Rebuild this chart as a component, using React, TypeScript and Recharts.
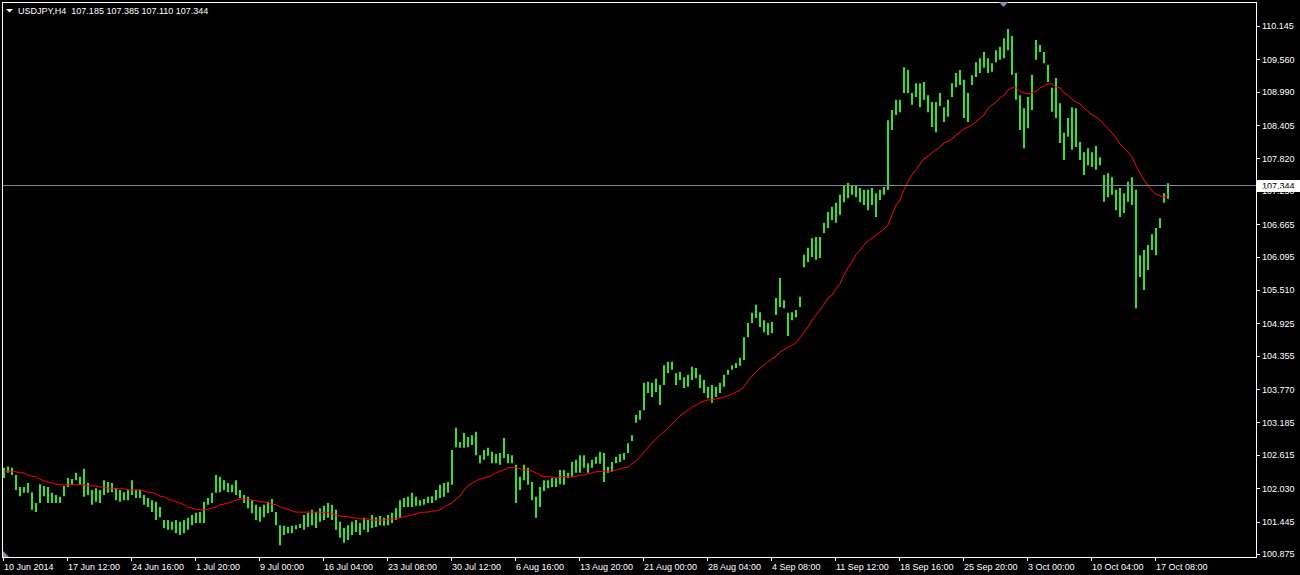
import { Bar, ComposedChart, Line, ReferenceLine, XAxis, YAxis } from 'recharts'

// USDJPY H4, every second bar
const symbol = 'USDJPY,H4'
const lastBar = ['107.185', '107.385', '107.110', '107.344']
const bidPrice = 107.344

const highs = [
  102.39, 102.41, 102.39, 102.26, 102.05, 102.05, 102.12, 101.96, 101.77, 102.10,
  102.07, 102.05, 101.95, 101.91, 101.88, 102.07, 102.21, 102.19, 102.30, 102.23,
  102.37, 102.12, 102.00, 102.03, 102.00, 102.17, 102.14, 102.12, 102.03, 102.00,
  101.96, 102.00, 102.17, 102.00, 102.00, 101.91, 101.86, 101.82, 101.79, 101.70,
  101.47, 101.47, 101.44, 101.47, 101.44, 101.47, 101.51, 101.56, 101.60, 101.61,
  101.79, 101.86, 101.95, 102.26, 102.23, 102.17, 102.12, 102.09, 102.17, 102.00,
  101.91, 101.88, 101.82, 101.74, 101.70, 101.74, 101.79, 101.84, 101.61, 101.38,
  101.37, 101.35, 101.37, 101.38, 101.40, 101.56, 101.60, 101.65, 101.61, 101.68,
  101.72, 101.77, 101.74, 101.65, 101.44, 101.33, 101.38, 101.44, 101.47, 101.42,
  101.51, 101.47, 101.56, 101.52, 101.54, 101.51, 101.56, 101.60, 101.68, 101.82,
  101.86, 101.88, 101.95, 101.88, 101.82, 101.84, 101.88, 101.89, 102.00, 102.09,
  102.12, 102.14, 102.70, 103.09, 102.84, 103.00, 102.93, 102.96, 103.02, 102.61,
  102.70, 102.74, 102.67, 102.63, 102.65, 102.91, 102.63, 102.61, 102.44, 102.23,
  102.44, 102.39, 102.14, 101.88, 102.05, 102.17, 102.17, 102.21, 102.21, 102.35,
  102.35, 102.30, 102.49, 102.53, 102.61, 102.61, 102.47, 102.53, 102.58, 102.67,
  102.65, 102.40, 102.49, 102.58, 102.63, 102.65, 102.82, 102.96, 103.32, 103.40,
  103.88, 103.90, 103.88, 103.95, 103.84, 104.19, 104.25, 104.25, 104.05, 104.07,
  103.98, 104.02, 104.16, 104.14, 104.02, 103.93, 103.81, 103.84, 103.81, 103.88,
  104.02, 104.11, 104.19, 104.23, 104.32, 104.68, 104.93, 105.11, 105.25, 105.12,
  104.98, 104.93, 104.95, 105.37, 105.72, 105.33, 105.11, 105.12, 105.16, 105.39,
  106.13, 106.25, 106.42, 106.44, 106.44, 106.69, 106.88, 106.97, 107.04, 107.18,
  107.35, 107.39, 107.35, 107.34, 107.30, 107.27, 107.27, 107.30, 107.21, 107.27,
  107.32, 108.49, 108.67, 108.85, 108.85, 109.42, 109.37, 108.97, 109.14, 109.14,
  109.16, 108.93, 108.81, 108.81, 108.97, 108.72, 108.85, 109.14, 109.32, 109.37,
  109.20, 108.97, 109.28, 109.51, 109.58, 109.69, 109.58, 109.49, 109.72, 109.78,
  109.93, 110.09, 109.97, 109.32, 108.93, 108.70, 108.90, 109.29, 109.90, 109.81,
  109.69, 109.46, 109.06, 109.23, 108.79, 108.27, 108.53, 108.72, 108.70, 108.11,
  107.93, 108.00, 107.93, 108.04, 107.84, 107.53, 107.56, 107.49, 107.27, 107.30,
  107.21, 107.41, 107.49, 107.27, 106.12, 106.21, 106.30, 106.49, 106.60, 106.77,
  107.21, 107.385,
]

const lows = [
  102.21, 102.30, 102.26, 102.00, 101.89, 101.95, 101.95, 101.65, 101.61, 101.77,
  101.89, 101.77, 101.77, 101.77, 101.77, 101.89, 102.05, 102.09, 102.17, 102.09,
  101.88, 101.91, 101.74, 101.79, 101.77, 101.91, 101.95, 101.96, 101.82, 101.79,
  101.82, 101.82, 101.91, 101.86, 101.86, 101.74, 101.70, 101.61, 101.47, 101.52,
  101.33, 101.30, 101.30, 101.24, 101.21, 101.24, 101.30, 101.38, 101.42, 101.42,
  101.42, 101.74, 101.77, 101.95, 101.96, 102.00, 101.96, 101.96, 101.91, 101.86,
  101.77, 101.68, 101.59, 101.47, 101.44, 101.52, 101.59, 101.61, 101.38, 101.03,
  101.21, 101.24, 101.24, 101.31, 101.33, 101.30, 101.35, 101.38, 101.33, 101.44,
  101.47, 101.51, 101.47, 101.30, 101.16, 101.07, 101.12, 101.21, 101.26, 101.21,
  101.30, 101.26, 101.33, 101.35, 101.38, 101.37, 101.38, 101.42, 101.47, 101.51,
  101.70, 101.70, 101.70, 101.72, 101.72, 101.74, 101.77, 101.77, 101.82, 101.86,
  101.88, 101.95, 102.09, 102.75, 102.74, 102.74, 102.75, 102.79, 102.61, 102.47,
  102.53, 102.60, 102.47, 102.47, 102.44, 102.56, 102.47, 102.47, 101.77, 102.00,
  102.17, 102.09, 101.82, 101.51, 101.70, 101.98, 102.03, 102.05, 102.05, 102.10,
  102.09, 102.21, 102.23, 102.30, 102.30, 102.39, 102.30, 102.39, 102.46, 102.46,
  102.14, 102.30, 102.32, 102.47, 102.49, 102.53, 102.65, 102.86, 103.18, 103.23,
  103.40, 103.70, 103.63, 103.72, 103.49, 103.84, 104.05, 104.11, 103.84, 103.93,
  103.79, 103.81, 103.93, 103.96, 103.79, 103.70, 103.61, 103.53, 103.63, 103.70,
  103.81, 104.02, 104.11, 104.14, 104.18, 104.28, 104.68, 104.93, 105.02, 104.86,
  104.77, 104.72, 104.75, 105.07, 105.21, 105.19, 104.70, 104.98, 105.03, 105.21,
  105.91, 106.00, 106.09, 106.04, 106.07, 106.51, 106.60, 106.74, 106.69, 106.83,
  107.05, 107.12, 107.18, 107.14, 107.05, 107.00, 106.91, 107.00, 106.79, 107.09,
  107.18, 107.27, 108.32, 108.58, 108.63, 108.97, 108.97, 108.76, 108.90, 108.72,
  108.85, 108.63, 108.37, 108.28, 108.74, 108.46, 108.55, 108.90, 109.07, 109.11,
  108.53, 108.46, 109.11, 109.25, 109.32, 109.41, 109.32, 109.34, 109.51, 109.55,
  109.58, 109.72, 109.29, 108.85, 108.32, 108.00, 108.35, 108.67, 109.55, 109.69,
  109.49, 109.16, 108.64, 108.53, 108.09, 107.79, 108.20, 107.97, 108.02, 107.79,
  107.53, 107.70, 107.67, 107.62, 107.70, 107.06, 107.14, 107.18, 106.91, 106.79,
  106.86, 107.06, 107.00, 105.19, 105.74, 105.51, 105.86, 106.21, 106.12, 106.60,
  107.04, 107.11,
]

// red moving average
const maValues = [
  102.32, 102.32, 102.32, 102.32, 102.30, 102.30, 102.26, 102.24, 102.23, 102.19,
  102.16, 102.14, 102.12, 102.10, 102.09, 102.09, 102.09, 102.09, 102.09, 102.09,
  102.09, 102.07, 102.07, 102.07, 102.05, 102.05, 102.03, 102.03, 102.02, 102.02,
  102.02, 102.00, 102.00, 102.00, 102.00, 101.98, 101.96, 101.96, 101.93, 101.89,
  101.88, 101.84, 101.82, 101.79, 101.77, 101.74, 101.70, 101.68, 101.66, 101.65,
  101.65, 101.66, 101.68, 101.70, 101.74, 101.75, 101.77, 101.79, 101.82, 101.84,
  101.84, 101.84, 101.82, 101.81, 101.79, 101.79, 101.77, 101.75, 101.74, 101.70,
  101.68, 101.66, 101.63, 101.61, 101.61, 101.61, 101.61, 101.61, 101.61, 101.61,
  101.60, 101.60, 101.58, 101.56, 101.54, 101.53, 101.53, 101.51, 101.51, 101.49,
  101.49, 101.49, 101.47, 101.47, 101.47, 101.47, 101.49, 101.49, 101.49, 101.51,
  101.53, 101.54, 101.56, 101.58, 101.60, 101.61, 101.61, 101.63, 101.63, 101.65,
  101.70, 101.74, 101.77, 101.84, 101.89, 102.00, 102.07, 102.12, 102.16, 102.19,
  102.21, 102.23, 102.26, 102.30, 102.33, 102.35, 102.39, 102.39, 102.39, 102.37,
  102.35, 102.35, 102.33, 102.30, 102.26, 102.23, 102.23, 102.23, 102.21, 102.23,
  102.23, 102.23, 102.23, 102.24, 102.26, 102.26, 102.28, 102.30, 102.32, 102.32,
  102.33, 102.33, 102.33, 102.35, 102.37, 102.39, 102.40, 102.46, 102.51, 102.58,
  102.67, 102.74, 102.82, 102.89, 102.96, 103.02, 103.09, 103.16, 103.23, 103.30,
  103.35, 103.40, 103.46, 103.49, 103.53, 103.56, 103.58, 103.58, 103.60, 103.61,
  103.63, 103.65, 103.68, 103.72, 103.75, 103.81, 103.91, 104.00, 104.07, 104.14,
  104.19, 104.25, 104.30, 104.35, 104.42, 104.46, 104.51, 104.54, 104.58, 104.67,
  104.77, 104.86, 104.98, 105.07, 105.16, 105.26, 105.37, 105.42, 105.53, 105.62,
  105.77, 105.90, 106.00, 106.13, 106.21, 106.30, 106.37, 106.42, 106.47, 106.53,
  106.58, 106.65, 106.83, 107.00, 107.09, 107.27, 107.41, 107.53, 107.62, 107.72,
  107.81, 107.86, 107.92, 107.97, 108.02, 108.09, 108.12, 108.16, 108.23, 108.28,
  108.34, 108.37, 108.41, 108.46, 108.53, 108.58, 108.70, 108.76, 108.81, 108.88,
  108.93, 109.02, 109.06, 109.06, 109.00, 108.97, 108.95, 108.97, 109.00, 109.06,
  109.09, 109.13, 109.13, 109.07, 109.06, 108.97, 108.93, 108.86, 108.81, 108.78,
  108.70, 108.65, 108.58, 108.55, 108.49, 108.42, 108.34, 108.27, 108.18, 108.07,
  108.00, 107.93, 107.84, 107.69, 107.56, 107.44, 107.35, 107.25, 107.19, 107.16,
  107.14, 107.18,
]

const dateLabels = [
  '10 Jun 2014', '17 Jun 12:00', '24 Jun 16:00', '1 Jul 20:00', '9 Jul 00:00',
  '16 Jul 04:00', '23 Jul 08:00', '30 Jul 12:00', '6 Aug 16:00', '13 Aug 20:00',
  '21 Aug 00:00', '28 Aug 04:00', '4 Sep 08:00', '11 Sep 12:00', '18 Sep 16:00',
  '25 Sep 20:00', '3 Oct 00:00', '10 Oct 04:00', '17 Oct 08:00',
]

const priceTicks = [
  110.145, 109.56, 108.99, 108.405, 107.82, 107.25, 106.665, 106.095, 105.51,
  104.925, 104.355, 103.77, 103.185, 102.615, 102.03, 101.445, 100.875,
]

// each entry is every 2nd H4 bar, a date label every 32 bars
const data = highs.map((h, k) => ({ bar: k * 2, range: [lows[k], h], ma: maValues[k] }))
const labelBars = dateLabels.map((_, n) => n * 32)

const FONT = 'Liberation Sans, Arial, sans-serif'
const W = 1300
const H = 575
const PLOT = { left: 2, top: 2, right: 1256, bottom: 557 }

function DateTick(props: any) {
  const { x, payload } = props
  const label = dateLabels[Math.round(payload.value / 32)]
  return (
    <g>
      <line x1={x - 0.5} x2={x - 0.5} y1={PLOT.bottom} y2={PLOT.bottom + 4} stroke="#fff" />
      <text x={x} y={570} fill="#fff" fontSize={9} fontFamily={FONT} textAnchor="start">
        {label}
      </text>
    </g>
  )
}

function PriceTick(props: any) {
  const { y, payload } = props
  const yy = Math.round(y) + 0.5
  return (
    <g>
      <line x1={PLOT.right + 1} x2={PLOT.right + 4} y1={yy} y2={yy} stroke="#fff" />
      <text x={PLOT.right + 6} y={y + 3.5} fill="#fff" fontSize={9} fontFamily={FONT} textAnchor="start">
        {Number(payload.value).toFixed(3)}
      </text>
    </g>
  )
}

function BidLabel(props: any) {
  const { viewBox } = props
  const right = viewBox.x + viewBox.width
  const y0 = Math.round(viewBox.y) - 6
  return (
    <g>
      <rect x={right + 1} y={y0} width={W - right - 1} height={12} fill="#fff" />
      <text x={right + 6} y={viewBox.y + 3.5} fill="#000" fontSize={9} fontFamily={FONT}>
        {bidPrice.toFixed(3)}
      </text>
    </g>
  )
}

export default function App() {
  return (
    <div style={{ position: 'absolute', left: 0, top: 0, width: W, height: H, background: '#000' }}>
      <ComposedChart
        width={W}
        height={H}
        data={data}
        margin={{ top: PLOT.top, right: 0, bottom: 0, left: PLOT.left }}
      >
        <XAxis
          type="number"
          dataKey="bar"
          domain={[-1, 626]}
          allowDataOverflow
          ticks={labelBars}
          interval={0}
          height={H - PLOT.bottom}
          axisLine={false}
          tickLine={false}
          tick={(p: any) => <DateTick {...p} />}
        />
        <YAxis
          orientation="right"
          width={W - PLOT.right}
          domain={[100.822, 110.566]}
          allowDataOverflow
          ticks={priceTicks}
          interval={0}
          axisLine={false}
          tickLine={false}
          tick={(p: any) => <PriceTick {...p} />}
        />
        <Bar dataKey="range" barSize={2} fill="#33e22b" isAnimationActive={false} />
        <Line
          type="linear"
          dataKey="ma"
          stroke="#ff0000"
          strokeWidth={1}
          dot={false}
          activeDot={false}
          isAnimationActive={false}
        />
        <ReferenceLine
          y={bidPrice}
          stroke="#778899"
          strokeWidth={1}
          label={(p: any) => <BidLabel {...p} />}
        />
      </ComposedChart>
      <svg
        width={W}
        height={H}
        style={{ position: 'absolute', left: 0, top: 0, pointerEvents: 'none' }}
      >
        <rect
          x={PLOT.left + 0.5}
          y={PLOT.top + 0.5}
          width={PLOT.right - PLOT.left}
          height={PLOT.bottom - PLOT.top}
          fill="none"
          stroke="#fff"
          shapeRendering="crispEdges"
        />
        <polygon points="6,9 13,9 9.5,12.5" fill="#fff" />
        <text x={18} y={14} fill="#fff" fontSize={9} fontFamily={FONT} style={{ whiteSpace: 'pre' }}>
          {symbol + '  ' + lastBar.join(' ')}
        </text>
        <polygon points="999,2 1008,2 1003.5,7" fill="#8494a8" />
        <polygon points="3,551 3,557 9,557" fill="#8494a8" />
      </svg>
    </div>
  )
}
